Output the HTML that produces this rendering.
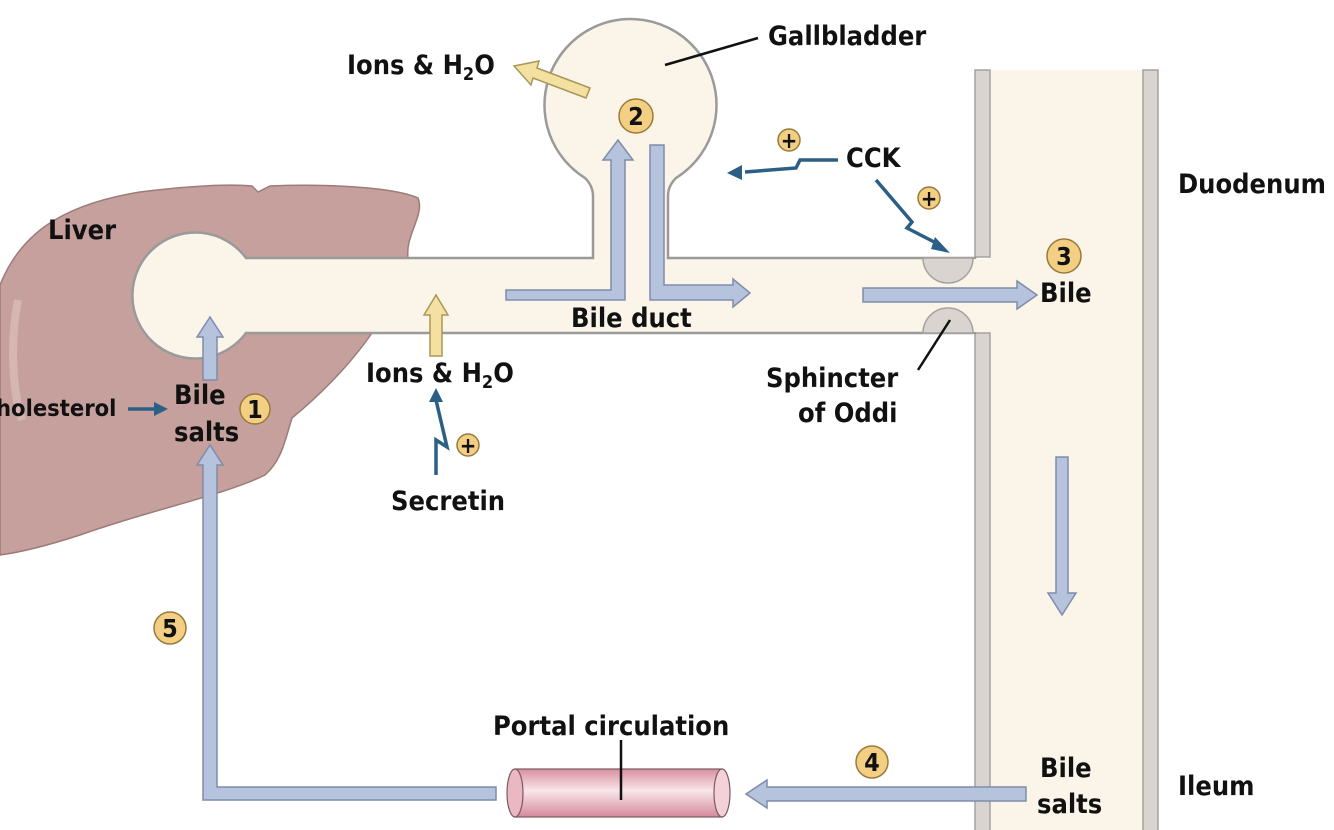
<!DOCTYPE html>
<html><head><meta charset="utf-8"><style>
html,body{margin:0;padding:0;background:#fff;}
svg{display:block;}
text{font-family:"DejaVu Sans Condensed","Liberation Sans",sans-serif;font-weight:bold;fill:#111;font-size:27px;}
</style></head><body>
<svg width="1334" height="830" viewBox="0 0 1334 830" xmlns="http://www.w3.org/2000/svg">
<defs>
<linearGradient id="pipe" x1="0" y1="0" x2="0" y2="1">
<stop offset="0" stop-color="#d98fa0"/><stop offset="0.45" stop-color="#f9e6ea"/><stop offset="1" stop-color="#d4899b"/>
</linearGradient>
</defs>
<!-- Liver -->
<path d="M0,285 C20,235 60,205 140,192 C190,186 230,184 252,186 L258,192 L270,186 C320,184 390,186 418,198 C425,215 405,235 408,258 L372,333 C350,365 320,395 292,418 C285,440 282,460 265,475 C225,495 150,510 80,535 C40,548 15,553 0,555 Z" fill="#c6a09c" stroke="#9c7b78" stroke-width="1.5"/>
<path d="M18,300 C10,340 12,390 22,420" stroke="#d6b6b2" stroke-width="8" fill="none"/>
<!-- Duodenum -->
<rect x="988" y="70" width="156" height="760" fill="#fbf4e8"/>
<rect x="975" y="70" width="15" height="187" fill="#d9d4cf" stroke="#a8a29e" stroke-width="1.5"/>
<rect x="975" y="333" width="15" height="500" fill="#d9d4cf" stroke="#a8a29e" stroke-width="1.5"/>
<rect x="1143" y="70" width="15" height="763" fill="#d9d4cf" stroke="#a8a29e" stroke-width="1.5"/>
<!-- bile duct system -->
<path d="M246,258 L593,258 L593,196 Q593,186 585,178 A86,86 0 1 1 676,178 Q668,186 668,196 L668,258 L975,258 L975,333 L246,333 A63,63 0 1 1 246,258 Z" fill="#fbf4e8" stroke="#9a9a9a" stroke-width="2.5"/>
<rect x="960" y="259" width="40" height="73" fill="#fbf4e8"/>
<!-- sphincter -->
<path d="M923,258 A25,25 0 0 0 973,258 Z" fill="#d9d4cf" stroke="#a8a29e" stroke-width="1.5"/>
<path d="M923,333 A25,25 0 0 1 973,333 Z" fill="#d9d4cf" stroke="#a8a29e" stroke-width="1.5"/>
<!-- light blue arrows -->
<g fill="#b6c3dd" stroke="#7f8cab" stroke-width="1.5">
<path d="M506,290 L611,290 L611,160 L603,160 L618,140 L633,160 L625,160 L625,300 L506,300 Z"/>
<path d="M650,145 L664,145 L664,285 L733,285 L733,279 L750,293 L733,307 L733,300 L650,300 Z"/>
<path d="M863,288 L1017,288 L1017,281 L1037,295 L1017,309 L1017,302 L863,302 Z"/>
<path d="M203,380 L203,337 L197,337 L210,317 L223,337 L217,337 L217,380 Z"/>
<path d="M203,800 L203,465 L197,465 L210,445 L223,465 L217,465 L217,787 L496,787 L496,800 Z"/>
<path d="M1026,787 L767,787 L767,780 L746,794 L767,808 L767,801 L1026,801 Z"/>
<path d="M1056,457 L1068,457 L1068,593 L1076,593 L1062,615 L1048,593 L1056,593 Z"/>
</g>
<!-- yellow arrows -->
<g fill="#f4e0a0" stroke="#a89858" stroke-width="1.5">
<path d="M430,356 L430,315 L424,315 L436,295 L448,315 L442,315 L442,356 Z"/>
<path d="M590,88 L537,68 L539,61 L514,66 L531,85 L533,78 L586,98 Z"/>
</g>
<!-- dark blue signal arrows -->
<g stroke="#2b5f86" stroke-width="3.5" fill="none">
<path d="M128,409 L156,409"/>
<path d="M436,475 L436,440 L447,447 L436,400"/>
<path d="M838,160 L800,160 L796,168 L745,172"/>
<path d="M876,180 L912,222 L907,228 L940,245"/>
</g>
<g fill="#2b5f86">
<path d="M154,402 L168,409 L154,416 Z"/>
<path d="M429,402 L436,388 L443,402 Z"/>
<path d="M742,165 L727,173 L742,180 Z"/>
<path d="M935,237 L950,253 L931,249 Z"/>
</g>
<!-- Portal circulation pipe -->
<rect x="515" y="769" width="207" height="48" fill="url(#pipe)" stroke="#7a5a62" stroke-width="1.2"/>
<ellipse cx="515" cy="793" rx="8" ry="24" fill="#e9b8c3" stroke="#7a5a62" stroke-width="1.2"/>
<ellipse cx="722" cy="793" rx="8" ry="24" fill="#f4d0d8" stroke="#7a5a62" stroke-width="1.2"/>
<line x1="621" y1="740" x2="621" y2="800" stroke="#111" stroke-width="2.5"/>
<!-- leader lines -->
<line x1="665" y1="65" x2="758" y2="38" stroke="#111" stroke-width="2.5"/>
<line x1="918" y1="370" x2="950" y2="320" stroke="#111" stroke-width="2.5"/>
<!-- numbered circles -->
<g fill="#f3cf83" stroke="#9a7a3a" stroke-width="1.5">
<circle cx="255" cy="409" r="15"/>
<circle cx="636" cy="116" r="17"/>
<circle cx="1064" cy="256" r="17"/>
<circle cx="872" cy="762" r="16"/>
<circle cx="170" cy="628" r="16"/>
<circle cx="789" cy="140" r="11"/>
<circle cx="929" cy="198" r="11"/>
<circle cx="468" cy="445" r="11"/>
</g>
<g text-anchor="middle">
<text x="255" y="418" style="font-size:25px">1</text>
<text x="636" y="125" style="font-size:25px">2</text>
<text x="1064" y="265" style="font-size:25px">3</text>
<text x="872" y="771" style="font-size:25px">4</text>
<text x="170" y="637" style="font-size:25px">5</text>
<text x="789" y="148" style="font-size:22px">+</text>
<text x="929" y="206" style="font-size:22px">+</text>
<text x="468" y="453" style="font-size:22px">+</text>
</g>
<!-- labels -->
<text x="768" y="45">Gallbladder</text>
<text x="347" y="74">Ions &amp; H<tspan style="font-size:18px" dy="6">2</tspan><tspan dy="-6">O</tspan></text>
<text x="846" y="167">CCK</text>
<text x="1178" y="193">Duodenum</text>
<text x="48" y="239">Liver</text>
<text x="1040" y="302">Bile</text>
<text x="571" y="327">Bile duct</text>
<text x="366" y="382">Ions &amp; H<tspan style="font-size:18px" dy="6">2</tspan><tspan dy="-6">O</tspan></text>
<text x="766" y="387">Sphincter</text>
<text x="798" y="422">of Oddi</text>
<text x="174" y="404">Bile</text>
<text x="174" y="441">salts</text>
<text x="-4" y="416" style="font-size:23.5px">holesterol</text>
<text x="391" y="510">Secretin</text>
<text x="493" y="735">Portal circulation</text>
<text x="1040" y="777">Bile</text>
<text x="1037" y="813">salts</text>
<text x="1178" y="795">Ileum</text>
</svg>
</body></html>
